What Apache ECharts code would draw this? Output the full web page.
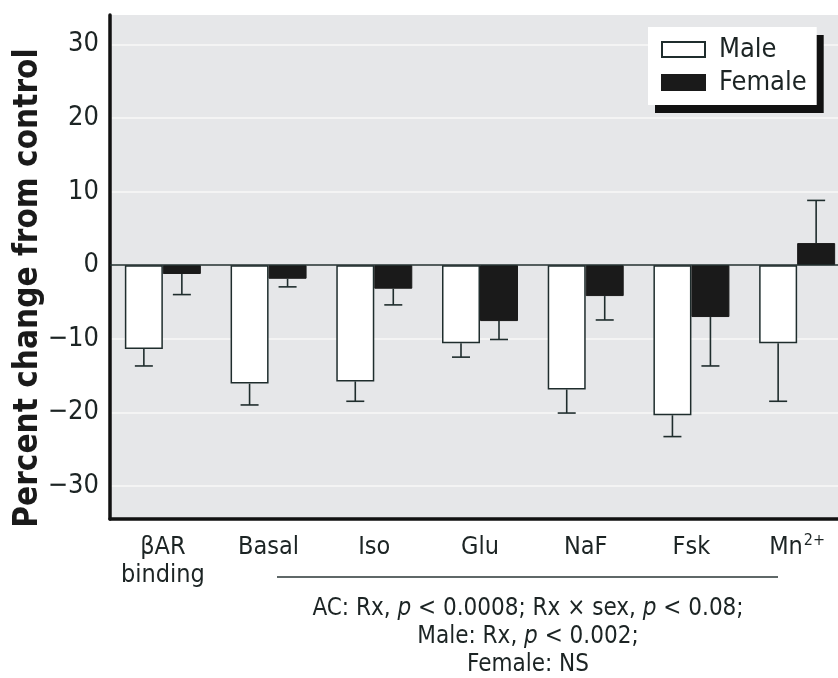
<!DOCTYPE html>
<html>
<head>
<meta charset="utf-8">
<script src="https://cdn.jsdelivr.net/npm/echarts@6/dist/echarts.min.js"></script>
<style>
  html, body { margin: 0; padding: 0; background: #ffffff; overflow: hidden; }
  /* the plot runs past the right edge of the page and is cut off there */
  #chart { width: 850px; height: 678px; }
</style>
</head>
<body>
<div id="chart"></div>
<script>
// Adenylyl cyclase / beta-adrenergic receptor measures, % change from control
const categories = ['βAR\nbinding', 'Basal', 'Iso', 'Glu', 'NaF', 'Fsk', 'Mn2+'];
const maleValues   = [-11.4, -16.1, -15.8, -10.6, -16.9, -20.4, -10.6];
const maleSem      = [2.3, 2.9, 2.7, 1.9, 3.2, 2.9, 7.9];
const femaleValues = [-1.2, -1.85, -3.2, -7.6, -4.2, -7.05, 3.0];
const femaleSem    = [2.8, 1.1, 2.2, 2.5, 3.25, 6.65, 5.8];
const yTicks = [-30, -20, -10, 0, 10, 20, 30];

const FONT = "'Liberation Sans Narrow', 'Arial Narrow', 'DejaVu Sans Condensed', 'Liberation Sans', sans-serif";
const INK = '#1c2424';
const EDGE = '#1f2d2d';

const chart = echarts.init(document.getElementById('chart'), null, { renderer: 'canvas' });

// One-sided error bars drawn away from zero, centred on each bar
function errorSeries(name, values, sems, offset) {
  return {
    type: 'custom',
    name: name,
    z: 4,
    silent: true,
    data: values.map((v, i) => [i, v, v + (v >= 0 ? 1 : -1) * sems[i]]),
    encode: { x: 0, y: [1, 2] },
    renderItem(params, api) {
      const i = api.value(0);
      const base = api.coord([i, api.value(1)]);
      const tip = api.coord([i, api.value(2)]);
      const x = base[0] + offset;
      const hw = 9;
      const st = { stroke: EDGE, lineWidth: 1.6 };
      return {
        type: 'group',
        children: [
          { type: 'line', shape: { x1: x, y1: base[1], x2: x, y2: tip[1] }, style: st },
          { type: 'line', shape: { x1: x - hw, y1: tip[1], x2: x + hw, y2: tip[1] }, style: st }
        ]
      };
    }
  };
}

const option = {
  backgroundColor: '#ffffff',
  animation: false,
  textStyle: { fontFamily: FONT },
  grid: {
    left: 110, right: 0, top: 15, bottom: 159,
    show: true, backgroundColor: '#e6e7e9', borderWidth: 0
  },
  legend: {
    data: [{ name: 'Male', icon: 'rect' }, { name: 'Female', icon: 'rect' }],
    orient: 'vertical',
    left: 648, top: 27,
    backgroundColor: '#ffffff',
    padding: [9, 10, 9, 13],
    itemGap: 6,
    itemWidth: 43, itemHeight: 15,
    shadowColor: '#111111', shadowBlur: 0, shadowOffsetX: 7, shadowOffsetY: 8,
    selectedMode: false,
    textStyle: { fontFamily: FONT, fontSize: 27, color: INK, padding: [0, 0, 0, 9], lineHeight: 27 }
  },
  xAxis: {
    type: 'category',
    data: categories,
    axisLine: { onZero: false, lineStyle: { color: '#111', width: 3.5 } },
    axisTick: { show: false },
    axisLabel: {
      interval: 0,
      margin: 14,
      fontFamily: FONT, fontSize: 25, color: INK, lineHeight: 28,
      formatter: (v) => v === 'Mn2+' ? 'Mn{sup|2+}' : v,
      rich: { sup: { fontFamily: FONT, fontSize: 16, color: INK, verticalAlign: 'top', padding: [0, 0, 10, 1] } }
    },
    splitLine: { show: false }
  },
  yAxis: {
    type: 'value',
    min: -34.5, max: 34,
    axisLine: { show: true, lineStyle: { color: '#111', width: 3.5 } },
    axisTick: { show: false, customValues: yTicks },
    axisLabel: {
      customValues: yTicks,
      margin: 11,
      fontFamily: FONT, fontSize: 27, color: INK,
      formatter: (v) => v < 0 ? '\u2212' + Math.abs(v) : String(v)
    },
    splitLine: { show: true, lineStyle: { color: '#f4f4f4', width: 2 } }
  },
  series: [
    {
      name: 'Male', type: 'bar', data: maleValues,
      barWidth: 38, barGap: '0%', z: 2,
      itemStyle: { color: '#ffffff', borderColor: EDGE, borderWidth: 1.5 },
      markLine: {
        silent: true, symbol: 'none', label: { show: false },
        lineStyle: { color: EDGE, width: 1.6, type: 'solid' },
        data: [{ yAxis: 0 }]
      }
    },
    {
      name: 'Female', type: 'bar', data: femaleValues,
      barWidth: 38, z: 2,
      itemStyle: { color: '#1a1a1a', borderColor: '#1a1a1a', borderWidth: 1 }
    },
    errorSeries('Male SEM', maleValues, maleSem, -19),
    errorSeries('Female SEM', femaleValues, femaleSem, 19)
  ],
  graphic: [
    {
      type: 'text', x: 28, y: 288, rotation: Math.PI / 2,
      style: {
        text: 'Percent change from control',
        fontFamily: FONT, fontSize: 33, fontWeight: 'bold',
        fill: '#1a1a1a', align: 'center', verticalAlign: 'middle'
      }
    },
    {
      type: 'line', shape: { x1: 277, y1: 577, x2: 778, y2: 577 },
      style: { stroke: '#2a3636', lineWidth: 1.5 }
    },
    {
      type: 'text', x: 528, y: 595,
      style: {
        text: 'AC: Rx, {i|p} < 0.0008; Rx × sex, {i|p} < 0.08;\nMale: Rx, {i|p} < 0.002;\nFemale: NS',
        fontFamily: FONT, fontSize: 24, lineHeight: 28,
        fill: INK, align: 'center', verticalAlign: 'top',
        rich: { i: { fontFamily: FONT, fontSize: 24, fontStyle: 'italic', fill: INK, lineHeight: 28 } }
      }
    }
  ]
};

chart.setOption(option);
</script>
</body>
</html>
